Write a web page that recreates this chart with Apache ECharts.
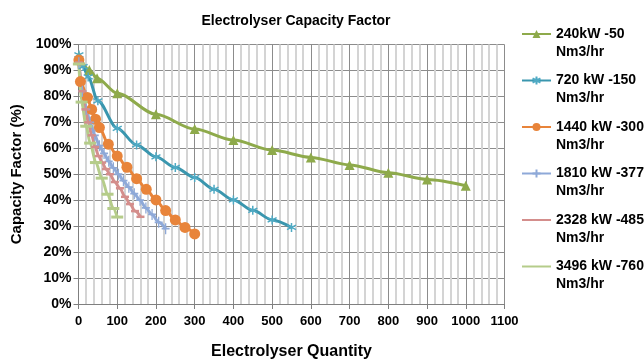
<!DOCTYPE html>
<html><head><meta charset="utf-8">
<script src="https://cdn.jsdelivr.net/npm/echarts@6/dist/echarts.min.js"></script>
<style>html,body{margin:0;padding:0;background:#fff}#c{width:644px;height:361px}</style>
</head><body><div id="c"></div>
<script>
var seriesNames = ['240kW -50\nNm3/hr','720 kW -150\nNm3/hr','1440 kW -300\nNm3/hr','1810 kW -377\nNm3/hr','2328 kW -485\nNm3/hr','3496 kW -760\nNm3/hr'];
var xTicks = [0,100,200,300,400,500,600,700,800,900,1000,1100];
var s240X = [1, 28, 48, 100, 200, 300, 400, 500, 600, 700, 800, 900, 1000];
var s240Y = [95.6, 90.2, 87, 81.2, 73.1, 67.4, 63.2, 59.3, 56.5, 53.6, 50.6, 48, 45.6];
var s720X = [1, 12, 25, 50, 100, 150, 200, 250, 300, 350, 400, 450, 500, 550];
var s720Y = [96, 91.5, 87.5, 78.3, 67.7, 61.3, 56.7, 52.6, 48.7, 44.2, 40.1, 36.1, 32.4, 29.5];
var s1440X = [1, 5, 23, 34, 44, 54, 77, 100, 125, 150, 175, 200, 225, 250, 275, 300];
var s1440Y = [94, 85.7, 79.6, 75, 71.2, 68, 61.6, 57, 52.7, 48.3, 44.2, 40.1, 36, 32.4, 29.5, 27];
var s1810X = [1, 10, 20, 30, 42, 54, 66, 78, 90, 103, 116, 130, 144, 159, 174, 190, 207, 225];
var s1810Y = [93, 82, 75, 70, 65, 61, 58, 55, 52.5, 50, 47.5, 45, 42.5, 40, 37, 34.5, 31.5, 29];
var s2328X = [1, 10, 18, 25, 34, 43, 52, 61, 71, 81, 94, 107, 120, 133, 146, 160];
var s2328Y = [93, 82, 75, 70, 65, 60.5, 57, 54.5, 52, 50, 47, 44.6, 41.3, 38.5, 35.8, 33.6];
var s3496X = [1, 8, 20, 30, 45, 60, 75, 90, 100];
var s3496Y = [92.5, 77.8, 68.5, 62, 54.5, 48.5, 42.3, 36.8, 33.5];

function pairs(xs, ys){ return xs.map(function(x,i){ return [x, ys[i]]; }); }
var FONT = 'Liberation Sans';
var colors = ['#8EAA4B','#3A96AE','#E8843A','#8EA9D8','#D48E8C','#B5CC8A'];
var markerColors = ['#8EAA4B','#4FAAC4','#E8843A','#8EA9D8','#D48E8C','#B5CC8A'];
var symbols = [
  {symbol:'triangle', size:10, stroke:false},
  {symbol:'path://M0,-5L0,5M-4.33,-2.5L4.33,2.5M-4.33,2.5L4.33,-2.5', size:9, stroke:true},
  {symbol:'circle', size:11, stroke:false},
  {symbol:'path://M0,-5.5L0,5.5M-4,0L4,0', size:[8,11], stroke:true},
  {symbol:'rect', size:[8,2.5], stroke:false},
  {symbol:'rect', size:[12,3], stroke:false}
];
var datas = [pairs(s240X,s240Y), pairs(s720X,s720Y), pairs(s1440X,s1440Y), pairs(s1810X,s1810Y), pairs(s2328X,s2328Y), pairs(s3496X,s3496Y)];

var series = datas.map(function(d,i){
  var sy = symbols[i];
  return {
    name: seriesNames[i], type:'line', data:d, smooth:0.3, smoothMonotone:'x',
    symbol: sy.symbol, symbolSize: sy.size, showSymbol:true,
    lineStyle:{color:colors[i], width:3},
    itemStyle: sy.stroke ? {color:markerColors[i], borderColor:markerColors[i], borderWidth:1.5} : {color:markerColors[i], borderWidth:0},
    emphasis:{disabled:true}, animation:false
  };
});

var legendData = seriesNames.map(function(n,i){
  return i >= 4 ? {name:n, itemStyle:{opacity:0}} : {name:n};
});

var chart = echarts.init(document.getElementById('c'), null, {renderer:'canvas'});
chart.setOption({
  animation:false,
  color: colors,
  title:{text:'Electrolyser Capacity Factor', left:291, textAlign:'center', top:9,
    textStyle:{fontFamily:FONT, fontSize:14, fontWeight:'bold', color:'#000'}},
  grid:{left:78.5, right:139.5, top:44.5, bottom:57, containLabel:false, outerBoundsMode:'none'},
  legend:{orient:'vertical', left:516, top:2, itemWidth:29, itemHeight:10, itemGap:-7.5,
    data: legendData,
    formatter:function(n){ return ' \n' + n; },
    textStyle:{fontFamily:FONT, fontSize:14, fontWeight:'bold', color:'#000', lineHeight:18}},
  xAxis:{type:'value', min:0, max:1100, interval:100,
    name:'Electrolyser Quantity', nameLocation:'middle', nameGap:40,
    nameTextStyle:{fontFamily:FONT, fontSize:16, fontWeight:'bold', color:'#000'},
    axisLine:{show:true, onZero:false, lineStyle:{color:'#7f7f7f', width:1}},
    axisTick:{show:true, length:5, lineStyle:{color:'#7f7f7f'}},
    axisLabel:{margin:11, fontFamily:FONT, fontSize:13, fontWeight:'bold', color:'#000',
      formatter:function(v){ return xTicks.indexOf(v) >= 0 ? String(v) : ''; }},
    splitLine:{show:true, lineStyle:{color:'#8c8c8c', width:1}},
    minorTick:{show:false, splitNumber:5},
    minorSplitLine:{show:true, lineStyle:{color:'#d4d4d4', width:2}}
  },
  yAxis:{type:'value', min:0, max:100, interval:10,
    name:'Capacity Factor (%)', nameLocation:'middle', nameGap:52,
    nameTextStyle:{fontFamily:FONT, fontSize:15, fontWeight:'bold', color:'#000'},
    axisLine:{show:true, lineStyle:{color:'#7f7f7f', width:1}},
    axisTick:{show:true, length:5, lineStyle:{color:'#7f7f7f'}},
    axisLabel:{margin:7, fontFamily:FONT, fontSize:14, fontWeight:'bold', color:'#000',
      formatter:function(v){ return v + '%'; }},
    splitLine:{show:true, lineStyle:{color:'#8c8c8c', width:1}}
  },
  series: series
});
</script></body></html>
